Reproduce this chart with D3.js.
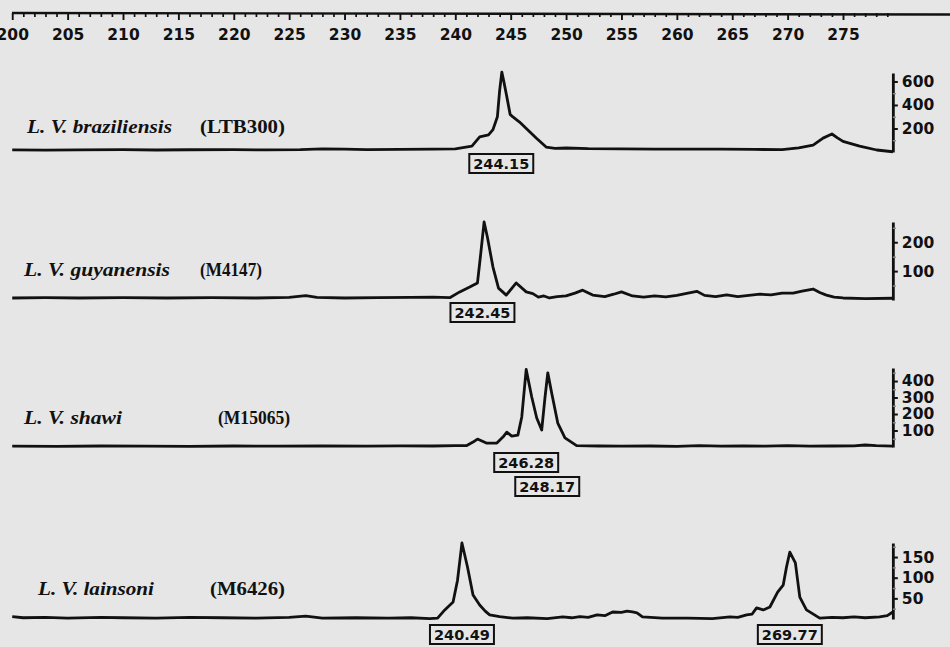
<!DOCTYPE html>
<html><head><meta charset="utf-8">
<script src="https://cdn.jsdelivr.net/npm/d3@7"></script>
<style>
html,body{margin:0;padding:0;background:#e6e6e6;}
svg{display:block;}
</style></head>
<body>
<div id="chart"></div>
<script>
// ---- data ----
const species = ["L. V. braziliensis", "L. V. guyanensis", "L. V. shawi", "L. V. lainsoni"];
const strains = ["(LTB300)", "(M4147)", "(M15065)", "(M6426)"];
const axisMax = [672, 270, 479, 184];
const yTicks = [[200, 400, 600], [100, 200], [100, 200, 300, 400], [50, 100, 150]];
const yMinorTicks = [[100, 300, 500], [50, 150, 250], [50, 150, 250, 350, 450], [25, 75, 125, 175]];
const peakLabels = [["244.15"], ["242.45"], ["246.28", "248.17"], ["240.49", "269.77"]];
const peakPos = [[244.15], [242.45], [246.4, 248.3], [240.6, 270.2]];
const xMajorTicks = [200, 205, 210, 215, 220, 225, 230, 235, 240, 245, 250, 255, 260, 265, 270, 275];

const traceBraziliensis = [[200,18],[203,16],[206,18],[210,20],[213,17],[216,19],[220,20],[223,18],[226,20],[228,26],[230,24],[232,20],[235,22],[238,25],[240,27],[241.5,50],[242.2,128],[243.0,145],[243.4,190],[243.8,300],[244.0,520],[244.2,680],[244.4,590],[244.65,470],[244.95,320],[245.2,298],[245.8,255],[246.55,187],[247.3,119],[248.2,42],[249,30],[250,34],[252,28],[255,26],[258,24],[261,25],[264,24],[267,22],[269.5,20],[271,35],[272.3,58],[273.2,118],[274.0,153],[274.5,120],[275.0,90],[276.5,50],[278.05,17],[279.5,2]];
const traceGuyanensis = [[200,7],[203,8],[206,7],[210,8],[214,7],[218,8],[222,7],[225,9],[226.5,15],[227.5,9],[230,7],[233,8],[236,9],[238,10],[239.5,8],[240.4,28],[241.3,45],[242.0,59],[242.3,162],[242.6,270],[242.9,217],[243.4,114],[243.9,41],[244.6,17],[245.5,59],[246.4,28],[247.0,22],[247.5,10],[248.0,14],[248.5,7],[249.2,12],[250.0,14],[250.8,24],[251.5,34],[252.4,17],[253.5,12],[254.3,20],[255,28],[256,14],[257,10],[258,14],[259,11],[260,16],[261,24],[261.8,30],[262.5,16],[263.5,12],[264.5,18],[265.5,12],[266.5,16],[267.5,20],[268.5,18],[269.5,24],[270.5,24],[271.3,31],[272.3,38],[272.9,26],[273.5,17],[274.2,10],[275,7],[277,5],[279.5,6]];
const traceShawi = [[200,5],[204,4],[208,6],[212,5],[216,4],[220,6],[224,5],[228,6],[232,5],[235,7],[238,6],[240,8],[241.0,8],[241.6,30],[242.0,48],[242.8,24],[243.75,24],[244.3,60],[244.65,90],[245.1,66],[245.65,72],[246.0,182],[246.4,470],[246.9,303],[247.35,176],[247.8,103],[248.1,303],[248.35,450],[248.7,327],[249.25,145],[249.9,55],[250.95,8],[253,6],[255,5],[257.6,6],[260,4],[262,8],[264,5],[266,7],[268,5],[270,8],[272,5],[274,6],[276,7],[277,12],[278,8],[279.5,5]];
const traceLainsoni = [[200,6],[201,3],[203,4],[205,2],[208,4],[210,3],[213,2],[216,4],[219,3],[222,2],[225,4],[226.5,7],[228,2],[231,3],[234,2],[236,3],[237.7,1],[238.4,2],[239.05,22],[239.8,41],[240.2,94],[240.6,184],[241.1,126],[241.6,58],[242.2,34],[242.7,19],[243.1,10],[244,6],[245.2,2],[246.5,3],[248.3,1],[249.7,5],[250.5,3],[251.25,6],[252,4],[252.8,10],[253.5,8],[254.2,17],[255.0,16],[255.5,19],[256.0,17],[256.4,15],[256.9,5],[258.7,2],[261,2],[263.2,1],[264.8,5],[265.5,4],[266.3,10],[266.8,12],[267.2,27],[267.8,22],[268.4,29],[269.1,65],[269.6,82],[269.9,126],[270.2,162],[270.7,136],[271.1,53],[271.7,22],[272.9,2],[274,4],[275,3],[276,5],[277,3],[278.3,5],[279,8],[279.5,17]];
const traces = [traceBraziliensis, traceGuyanensis, traceShawi, traceLainsoni];

// ---- layout ----
const W = 950, H = 647;
const baselines = [152, 300, 447, 619];
const tops = [73, 222, 368, 543];
const labelY = [133, 276, 424, 595];
const nameX = [[27,172],[24,170],[24,122],[38,154]];
const strainX = [[200,285],[200,262],[218,290],[210,285]];
const boxY = [[154],[303],[453,477],[625,625]];

const svg = d3.select("#chart").append("svg").attr("width", W).attr("height", H)
  .style("background", "#e6e6e6");

const x = d3.scaleLinear().domain([210, 275]).range([123, 843]);
const axisX = x(279.5);

// top axis
const topY = 13;
svg.append("line").attr("x1", 12).attr("x2", W).attr("y1", topY).attr("y2", topY + 1.5)
  .attr("stroke", "#111").attr("stroke-width", 2.4);
const minor = d3.range(200, 280, 1).filter(v => v % 5 !== 0);
svg.append("g").attr("transform", `translate(0,${topY})`)
  .call(d3.axisBottom(x).tickValues(minor).tickSize(4).tickFormat(""))
  .call(g => g.select(".domain").remove())
  .selectAll("line").attr("stroke", "#111").attr("stroke-width", 1.7);
const topAxis = svg.append("g").attr("transform", `translate(0,${topY})`)
  .call(d3.axisBottom(x).tickValues(xMajorTicks).tickSize(7).tickPadding(9).tickFormat(d3.format("d")))
  .call(g => g.select(".domain").remove());
topAxis.selectAll("line").attr("stroke", "#111").attr("stroke-width", 1.9);
topAxis.selectAll("text").attr("font-family", "DejaVu Sans").attr("font-weight", "bold")
  .attr("font-size", 15.5).attr("fill", "#111");

const line = d3.line();

traces.forEach((tr, i) => {
  const y = d3.scaleLinear().domain([0, axisMax[i]]).range([baselines[i], tops[i]]);
  const g = svg.append("g");
  // trace
  g.append("path")
    .attr("d", line.x(d => x(d[0])).y(d => y(d[1]))(tr))
    .attr("fill", "none").attr("stroke", "#111").attr("stroke-width", 2.8)
    .attr("stroke-linejoin", "round");
  // right axis
  const ax = g.append("g").attr("transform", `translate(${axisX},0)`)
    .call(d3.axisRight(y).tickValues(yTicks[i]).tickSize(5).tickSizeOuter(0).tickPadding(4).tickFormat(d3.format("d")));
  ax.select(".domain").attr("stroke", "#111").attr("stroke-width", 2.8);
  ax.selectAll(".tick line").attr("stroke", "#111").attr("stroke-width", 2);
  ax.selectAll("text").attr("font-family", "DejaVu Sans").attr("font-weight", "bold")
    .attr("font-size", 15.5).attr("fill", "#111");
  g.append("g").attr("transform", `translate(${axisX},0)`)
    .call(d3.axisRight(y).tickValues(yMinorTicks[i]).tickSize(3).tickFormat(""))
    .call(s => s.select(".domain").remove())
    .selectAll("line").attr("stroke", "#888").attr("stroke-width", 1.5);
  // species label
  g.append("text").text(species[i])
    .attr("x", nameX[i][0]).attr("y", labelY[i])
    .attr("textLength", nameX[i][1] - nameX[i][0]).attr("lengthAdjust", "spacingAndGlyphs")
    .attr("font-family", "Liberation Serif").attr("font-style", "italic").attr("font-weight", "bold")
    .attr("font-size", 18).attr("fill", "#111");
  g.append("text").text(strains[i])
    .attr("x", strainX[i][0]).attr("y", labelY[i])
    .attr("textLength", strainX[i][1] - strainX[i][0]).attr("lengthAdjust", "spacingAndGlyphs")
    .attr("font-family", "Liberation Serif").attr("font-weight", "bold")
    .attr("font-size", 18).attr("fill", "#111");
  // peak labels
  peakLabels[i].forEach((lab, j) => {
    const cx = x(peakPos[i][j]);
    const by = boxY[i][j];
    const t = g.append("text").text(lab).attr("x", cx).attr("y", by + 15)
      .attr("text-anchor", "middle").attr("font-family", "DejaVu Sans").attr("font-weight", "bold")
      .attr("font-size", 14.5).attr("fill", "#111");
    const bb = t.node().getBBox();
    g.append("rect").attr("x", bb.x - 4).attr("y", by).attr("width", bb.width + 8).attr("height", 19)
      .attr("fill", "none").attr("stroke", "#111").attr("stroke-width", 2);
  });
});
</script>
</body></html>
